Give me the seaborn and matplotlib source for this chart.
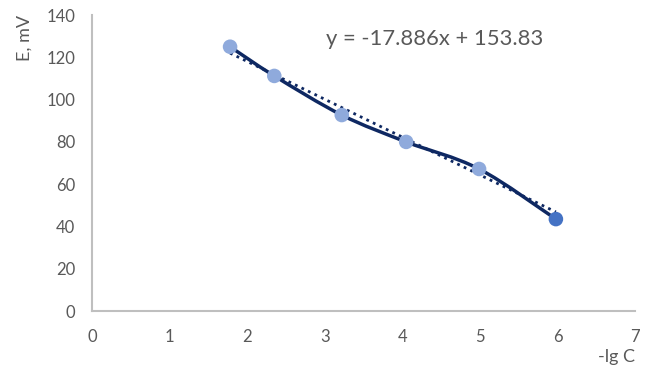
import numpy as np
import pandas as pd
import matplotlib
matplotlib.use("Agg")
import matplotlib.pyplot as plt
from matplotlib.path import Path
from matplotlib.patches import PathPatch
from matplotlib.ticker import MultipleLocator
import seaborn as sns

# data
lg_c = [1.78, 2.35, 3.22, 4.05, 4.99, 5.98]
e_mv = [125.0, 111.2, 92.7, 80.0, 67.2, 43.5]
point_kind = ["a", "a", "a", "a", "a", "b"]
slope = -17.886
intercept = 153.83

df = pd.DataFrame({"x": lg_c, "y": e_mv, "kind": point_kind})

sns.set_style("white")
plt.rcParams["font.family"] = ["Lato", "DejaVu Sans"]

grey = "#595959"
navy = "#0E2862"

fig = plt.figure(figsize=(6.46, 3.66), dpi=100)
ax = fig.add_axes([0.1424, 0.150, 0.8406, 0.809])

# smoothed line (Excel style, Catmull-Rom -> Bezier)
pts = np.column_stack([lg_c, e_mv])
verts = [pts[0]]
codes = [Path.MOVETO]
for i in range(len(pts) - 1):
    p0 = pts[max(i - 1, 0)]
    p1 = pts[i]
    p2 = pts[i + 1]
    p3 = pts[min(i + 2, len(pts) - 1)]
    c1 = p1 + (p2 - p0) / 6
    c2 = p2 - (p3 - p1) / 6
    verts += [c1, c2, p2]
    codes += [Path.CURVE4] * 3
ax.add_patch(PathPatch(Path(verts, codes), fill=False, ec=navy, lw=2.5, zorder=2))

# linear trendline
tx = np.array([lg_c[0], lg_c[-1]])
ax.plot(tx, slope * tx + intercept, ls=(0, (1, 1.6)), color=navy, lw=2.0, zorder=2)

sns.scatterplot(data=df, x="x", y="y", hue="kind",
                palette={"a": "#8FAADC", "b": "#4472C4"},
                s=110, edgecolor="none", legend=False, ax=ax, zorder=3)

ax.text(4.42, 128.5, "y = -17.886x + 153.83", ha="center", va="center",
        fontsize=15.8, color=grey)

ax.set_xlim(0, 7)
ax.set_ylim(0, 140)
ax.xaxis.set_major_locator(MultipleLocator(1))
ax.xaxis.set_minor_locator(MultipleLocator(0.2))
ax.yaxis.set_major_locator(MultipleLocator(20))
ax.yaxis.set_minor_locator(MultipleLocator(4))

for side in ["top", "right"]:
    ax.spines[side].set_visible(False)
for side in ["left", "bottom"]:
    ax.spines[side].set_color("#BFBFBF")
    ax.spines[side].set_linewidth(1.5)

ax.tick_params(which="both", direction="in", color="#BFBFBF", width=1.2,
               labelsize=12, labelcolor=grey)
ax.tick_params(which="major", length=5)
ax.tick_params(which="minor", length=3.5)
ax.tick_params(axis="x", pad=13)
ax.tick_params(axis="y", pad=12)

ax.set_xlabel("-lg C", fontsize=13, color=grey, loc="right", labelpad=3)
ax.set_ylabel("E, mV", fontsize=13, color=grey, loc="top", labelpad=10)

fig.savefig("out.png", dpi=100)
